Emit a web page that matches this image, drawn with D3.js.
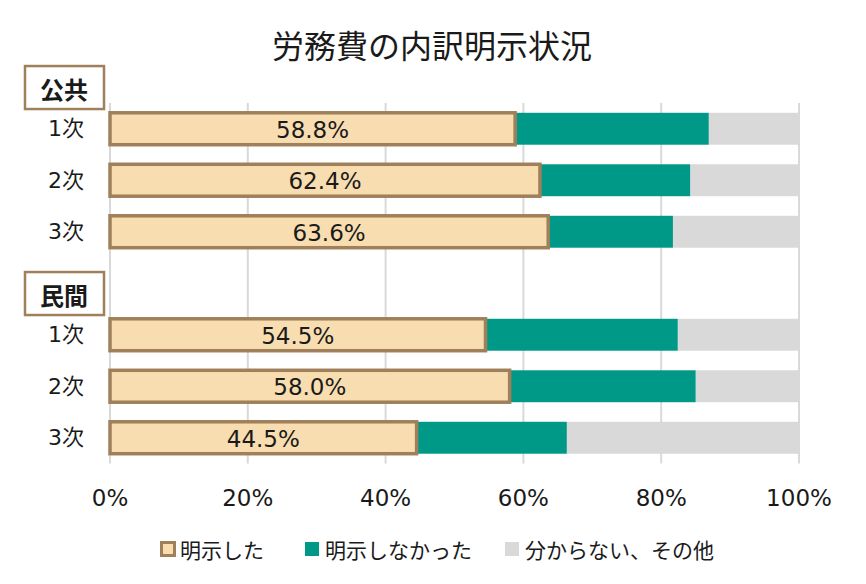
<!DOCTYPE html>
<html>
<head>
<meta charset="utf-8">
<script src="https://cdn.jsdelivr.net/npm/d3@7"></script>
<style>
  body { margin: 0; background: #fff; }
  svg text { font-family: "Noto Sans CJK JP", "Noto Sans", sans-serif; fill: #1a1a1a; }
  svg text.num { font-family: "DejaVu Sans", "Noto Sans CJK JP", sans-serif; }
</style>
</head>
<body>
<div id="chart"></div>
<script>
// 労務費の内訳明示状況 — 100% stacked horizontal bars, grouped 公共 / 民間
const groups = ['公共', '民間'];
const tiers = ['1次', '2次', '3次'];
const disclosed = [58.8, 62.4, 63.6, 54.5, 58.0, 44.5];      // 明示した
const notDisclosed = [28.1, 21.8, 18.1, 27.9, 27.0, 21.8];   // 明示しなかった
const unknown = [13.1, 15.8, 18.3, 17.6, 15.0, 33.7];         // 分からない、その他
const seriesNames = ['明示した', '明示しなかった', '分からない、その他'];
const xTicks = [0, 20, 40, 60, 80, 100];

const colors = { fill: '#F8DDB0', edge: '#A0805A', teal: '#009887', gray: '#D9D9D9', grid: '#D9D9D9' };

const W = 866, H = 584;
const svg = d3.select('#chart').append('svg').attr('width', W).attr('height', H);

// one band per row, with an empty band between the two groups
const rowKeys = [];
groups.forEach((g, gi) => {
  if (gi > 0) rowKeys.push('gap');
  tiers.forEach(t => rowKeys.push(g + '-' + t));
});
const rows = [];
groups.forEach((g, gi) => tiers.forEach((t, ti) => {
  const i = gi * tiers.length + ti;
  rows.push({ key: g + '-' + t, tier: t, a: disclosed[i], b: notDisclosed[i], c: unknown[i] });
}));

const x = d3.scaleLinear().domain([0, 100]).range([110, 799]);
const y = d3.scaleBand().domain(rowKeys).range([103, 463.5]).paddingInner(0.38).paddingOuter(0.19);

// title
svg.append('text').attr('x', 432).attr('y', 44).attr('text-anchor', 'middle')
  .attr('dominant-baseline', 'central').style('font-size', '32px').text('労務費の内訳明示状況');

// vertical gridlines
svg.append('g').selectAll('line').data(xTicks).join('line')
  .attr('x1', d => x(d)).attr('x2', d => x(d))
  .attr('y1', 103).attr('y2', 463.5)
  .attr('stroke', colors.grid).attr('stroke-width', 2);

// x axis tick labels
svg.append('g').selectAll('text').data(xTicks).join('text').attr('class', 'num')
  .attr('x', d => x(d)).attr('y', 498).attr('text-anchor', 'middle')
  .attr('dominant-baseline', 'central').style('font-size', '23px')
  .text(d => d + '%');

const bars = svg.append('g');
// gray remainder
bars.selectAll('rect.c').data(rows).join('rect').attr('class', 'c')
  .attr('x', d => x(d.a + d.b)).attr('width', d => x(d.c) - x(0))
  .attr('y', d => y(d.key)).attr('height', y.bandwidth()).attr('fill', colors.gray);
// teal
bars.selectAll('rect.b').data(rows).join('rect').attr('class', 'b')
  .attr('x', d => x(d.a)).attr('width', d => x(d.b) - x(0))
  .attr('y', d => y(d.key)).attr('height', y.bandwidth()).attr('fill', colors.teal);
// disclosed, with brown outline
bars.selectAll('rect.a').data(rows).join('rect').attr('class', 'a')
  .attr('x', x(0)).attr('width', d => x(d.a) - x(0))
  .attr('y', d => y(d.key)).attr('height', y.bandwidth())
  .attr('fill', colors.fill).attr('stroke', colors.edge).attr('stroke-width', 3.5);

// value labels inside disclosed segment
bars.selectAll('text.v').data(rows).join('text').attr('class', 'v num')
  .attr('x', d => x(d.a / 2)).attr('y', d => y(d.key) + y.bandwidth() / 2 + 1)
  .attr('text-anchor', 'middle').attr('dominant-baseline', 'central')
  .style('font-size', '23px').text(d => d.a.toFixed(1) + '%');

// row labels
svg.append('g').selectAll('text').data(rows).join('text').attr('class', 'num')
  .attr('x', 66).attr('y', d => y(d.key) + y.bandwidth() / 2)
  .attr('text-anchor', 'middle').attr('dominant-baseline', 'central')
  .style('font-size', '22px').text(d => d.tier);

// group header boxes
groups.forEach(g => {
  const cy = y(g + '-1次') + y.bandwidth() / 2 - 0.81 * y.step();
  const hg = svg.append('g');
  hg.append('rect').attr('x', 25).attr('y', cy - 21).attr('width', 79).attr('height', 43)
    .attr('fill', '#fff').attr('stroke', colors.edge).attr('stroke-width', 2.5);
  hg.append('text').attr('x', 64).attr('y', cy + 1).attr('text-anchor', 'middle')
    .attr('dominant-baseline', 'central').style('font-size', '24px').style('font-weight', 'bold')
    .text(g);
});

// legend
const legendX = [160, 305, 505];
const lg = svg.append('g');
seriesNames.forEach((name, i) => {
  const item = lg.append('g').attr('transform', `translate(${legendX[i]},549)`);
  if (i === 0) {
    item.append('rect').attr('x', 1.5).attr('y', -6.5).attr('width', 13).attr('height', 13)
      .attr('fill', colors.fill).attr('stroke', colors.edge).attr('stroke-width', 3);
  } else {
    item.append('rect').attr('x', 0).attr('y', -7).attr('width', 14).attr('height', 14)
      .attr('fill', i === 1 ? colors.teal : colors.gray);
  }
  item.append('text').attr('x', 20).attr('y', 0).attr('dominant-baseline', 'central')
    .style('font-size', '21px').text(name);
});
</script>
</body>
</html>
